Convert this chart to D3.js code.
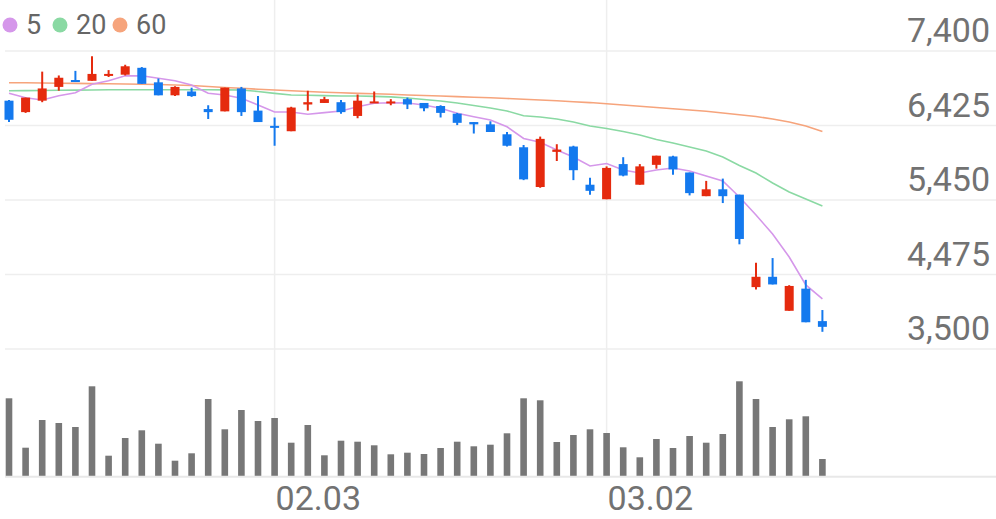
<!DOCTYPE html>
<html><head><meta charset="utf-8">
<script src="https://cdn.jsdelivr.net/npm/d3@7"></script>
<style>html,body{margin:0;padding:0;background:#fff;}svg{display:block;font-family:Roboto,"Noto Sans",sans-serif;}</style>
</head><body>
<svg id="c" width="996" height="519"></svg>
<script>
const dates = ["2020-01-08","2020-01-09","2020-01-10","2020-01-13","2020-01-14","2020-01-15","2020-01-16","2020-01-17","2020-01-20","2020-01-21","2020-01-22","2020-01-23","2020-01-28","2020-01-29","2020-01-30","2020-01-31",
"2020-02-03","2020-02-04","2020-02-05","2020-02-06","2020-02-07","2020-02-10","2020-02-11","2020-02-12","2020-02-13","2020-02-14","2020-02-17","2020-02-18","2020-02-19","2020-02-20","2020-02-21","2020-02-24","2020-02-25","2020-02-26","2020-02-27","2020-02-28",
"2020-03-02","2020-03-03","2020-03-04","2020-03-05","2020-03-06","2020-03-09","2020-03-10","2020-03-11","2020-03-12","2020-03-13","2020-03-16","2020-03-17","2020-03-18","2020-03-19"];
const open  = [6750,6600,6750,6930,7020,7010,7080,7090,7180,6990,6820,6870,6640,6610,6910,6620,6420,6350,6700,6720,6730,6550,6720,6720,6770,6720,6680,6580,6470,6440,6310,6140,5620,6080,6150,5650,5460,5920,5650,5910,6020,5810,5500,5590,5520,4310,4445,4000,4290,3865];
const high  = [6760,6790,7130,7080,7140,7330,7150,7220,7190,7040,6940,6920,6690,6920,6930,6810,6530,6670,6880,6800,6760,6830,6870,6770,6790,6720,6690,6590,6470,6480,6340,6170,6280,6180,6160,5740,5890,6010,5920,6030,6030,5810,5700,5730,5520,4630,4690,4335,4405,4010];
const low   = [6470,6590,6730,6880,7000,7010,7060,7080,6970,6820,6810,6800,6510,6610,6550,6470,6160,6350,6620,6720,6580,6520,6720,6690,6640,6610,6530,6430,6320,6340,6150,5710,5610,5960,5710,5520,5460,5760,5650,5860,5780,5510,5500,5410,4870,4280,4345,4000,3850,3725];
const close = [6500,6790,6910,7050,7000,7100,7100,7200,6970,6820,6930,6810,6600,6920,6600,6470,6400,6660,6730,6770,6600,6750,6740,6740,6700,6650,6590,6460,6440,6340,6160,5720,6250,6110,5840,5570,5870,5770,5890,6030,5850,5540,5590,5500,4940,4445,4345,4325,3850,3790];
const volume = [777000,283000,560000,530000,490000,897000,203000,380000,457000,323000,153000,227000,770000,467000,660000,550000,580000,333000,510000,207000,353000,343000,307000,217000,233000,220000,280000,343000,297000,313000,427000,777000,757000,340000,410000,467000,430000,287000,187000,370000,280000,400000,333000,420000,947000,770000,490000,567000,597000,170000];
const ma5  = [6846,6789,6759,6815,6854,6964,7011,7077,7075,7043,7011,6955,6846,6824,6781,6693,6602,6602,6572,6593,6615,6671,6716,6723,6719,6693,6650,6585,6540,6497,6409,6255,6205,6104,6013,5895,5928,5843,5803,5843,5869,5830,5764,5699,5489,5254,5005,4704,4338,4155];
const ma20 = [6880,6882,6884,6886,6888,6890,6892,6893,6893,6893,6893,6893,6893,6891,6890,6870,6846,6824,6820,6816,6811,6811,6806,6800,6785,6765,6746,6719,6687,6654,6615,6553,6536,6510,6471,6418,6386,6346,6301,6242,6196,6144,6091,6013,5902,5803,5672,5555,5463,5372];
const ma60 = [6985,6984,6981,6978,6976,6973,6971,6968,6965,6962,6955,6949,6935,6922,6912,6900,6890,6879,6870,6860,6853,6846,6840,6833,6824,6818,6811,6803,6795,6788,6778,6768,6759,6748,6736,6725,6709,6693,6676,6661,6645,6628,6611,6589,6566,6543,6510,6471,6418,6345];
const priceTicks = [3500,4475,5450,6425,7400];
const dateTicks = ["2020-02-03","2020-03-02"];
const dateTickLabels = ["02.03","03.02"];
const maNames = ["5","20","60"];
const maColors = ["#d597ea","#8ad9a3","#f6a47c"];

const W = 996, H = 519;
const svg = d3.select("#c");
const x = d3.scalePoint().domain(dates).range([9, 822.4]);
const y = d3.scaleLinear().domain([3500, 7400]).range([349, 51]);
const yv = d3.scaleLinear().domain([0, 950000]).range([476, 381]);

svg.append("g").selectAll("line").data(priceTicks).join("line")
  .attr("x1", 5).attr("x2", W).attr("y1", d => y(d)).attr("y2", d => y(d))
  .attr("stroke", "#eeeeee").attr("stroke-width", 1.5);
svg.append("g").selectAll("line").data(dateTicks).join("line")
  .attr("x1", d => x(d)).attr("x2", d => x(d)).attr("y1", 0).attr("y2", 476)
  .attr("stroke", "#eeeeee").attr("stroke-width", 1.5);

svg.append("g").selectAll("text").data(priceTicks).join("text")
  .attr("x", 990).attr("y", d => y(d) - 9).attr("text-anchor", "end")
  .attr("font-size", 34).attr("fill", "#727272")
  .text(d => d3.format(",")(d));

svg.append("g").selectAll("text").data(dateTicks).join("text")
  .attr("x", d => x(d) + 1).attr("y", 510).attr("text-anchor", "start")
  .attr("font-size", 34).attr("fill", "#727272")
  .text((d, i) => dateTickLabels[i]);

svg.append("g").selectAll("rect").data(dates).join("rect")
  .attr("x", d => x(d) - 3.3).attr("width", 6.6)
  .attr("y", (d, i) => yv(volume[i])).attr("height", (d, i) => yv(0) - yv(volume[i]))
  .attr("fill", "#777777");
svg.append("line").attr("x1", 5).attr("x2", W).attr("y1", 476.8).attr("y2", 476.8)
  .attr("stroke", "#e8e8e8").attr("stroke-width", 2);

[ma60, ma20, ma5].forEach((s, k) => {
  const idx = 2 - k;
  svg.append("path").datum(s)
    .attr("fill", "none").attr("stroke", maColors[idx]).attr("stroke-width", 1.6)
    .attr("d", d3.line().x((d, i) => x(dates[i])).y(d => y(d)));
});

const up = "#e52a0e", down = "#1479ee";
const cg = svg.append("g");
dates.forEach((d, i) => {
  const col = close[i] >= open[i] ? up : down;
  cg.append("line").attr("x1", x(d)).attr("x2", x(d))
    .attr("y1", y(high[i])).attr("y2", y(low[i]))
    .attr("stroke", col).attr("stroke-width", 2);
  const top = y(Math.max(open[i], close[i])), bot = y(Math.min(open[i], close[i]));
  cg.append("rect").attr("x", x(d) - 4.5).attr("width", 9)
    .attr("y", top).attr("height", Math.max(2, bot - top)).attr("fill", col);
});

const lg = svg.append("g");
const lx = [10, 60, 120];
maNames.forEach((n, i) => {
  lg.append("circle").attr("cx", lx[i]).attr("cy", 25).attr("r", 7.5).attr("fill", maColors[i]);
  lg.append("text").attr("x", lx[i] + 16).attr("y", 34).attr("font-size", 27).attr("fill", "#666").text(n);
});
</script>
</body></html>
